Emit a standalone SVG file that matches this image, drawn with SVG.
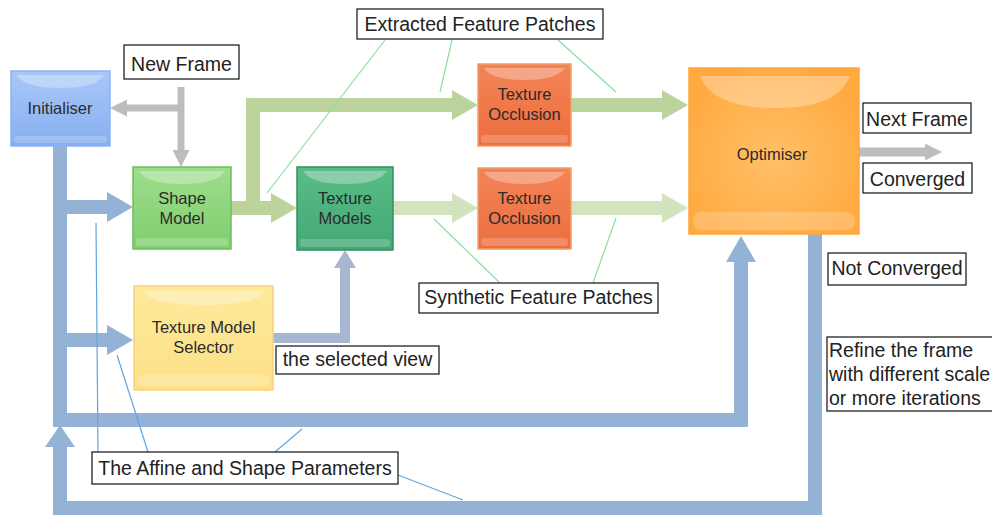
<svg xmlns="http://www.w3.org/2000/svg" width="992" height="516" viewBox="0 0 992 516">
<style>
  .lbl rect { fill: #ffffff; stroke: #222; stroke-width: 1.3; }
  .lbl text { font-family: "Liberation Sans", Arial, sans-serif; font-size: 19.5px; fill: #222; }
  .node text { font-family: "Liberation Sans", Arial, sans-serif; font-size: 16.5px; fill: #2b2b2b; text-anchor: middle; }
  .gloss { fill: #ffffff; opacity: 0.3; }
  .band { fill: #ffffff; opacity: 0.2; }
  .blue { fill: none; stroke: #94b2d6; stroke-width: 14; stroke-linejoin: miter; }
  .blue2 { fill: none; stroke: #a7b7d2; stroke-width: 10; stroke-linejoin: miter; }
  .gray { fill: none; stroke: #bdbdbd; stroke-width: 7; }
  .green1 { fill: none; stroke: #bcd49c; stroke-width: 14; stroke-linejoin: miter; }
  .green2 { fill: none; stroke: #d3e3be; stroke-width: 14; }
  .gline { stroke: #86e29a; stroke-width: 1.2; fill: none; }
  .bline { stroke: #62a6dc; stroke-width: 1.2; fill: none; }
</style>
<defs>
  <linearGradient id="gBlue" x1="0" y1="0" x2="0" y2="1"><stop offset="0" stop-color="#a9c8f8"/><stop offset="1" stop-color="#86aef0"/></linearGradient>
  <linearGradient id="gGreen" x1="0" y1="0" x2="0" y2="1"><stop offset="0" stop-color="#9ddd8c"/><stop offset="1" stop-color="#80cf6f"/></linearGradient>
  <linearGradient id="gTeal" x1="0" y1="0" x2="0" y2="1"><stop offset="0" stop-color="#5abd88"/><stop offset="1" stop-color="#43a874"/></linearGradient>
  <linearGradient id="gRed" x1="0" y1="0" x2="0" y2="1"><stop offset="0" stop-color="#f38457"/><stop offset="1" stop-color="#ec6e3e"/></linearGradient>
  <radialGradient id="gOrange" cx="0.5" cy="0.55" r="0.6"><stop offset="0" stop-color="#ffc068"/><stop offset="1" stop-color="#ffa93f"/></radialGradient>
  <linearGradient id="gYellow" x1="0" y1="0" x2="0" y2="1"><stop offset="0" stop-color="#fee99a"/><stop offset="1" stop-color="#fde088"/></linearGradient>
  <marker id="hBlue" viewBox="0 0 26 30" markerWidth="26" markerHeight="30" refX="0" refY="15" orient="auto" markerUnits="userSpaceOnUse"><path d="M0,0 L26,15 L0,30 z" fill="#94b2d6"/></marker>
  <marker id="hBlueS" viewBox="0 0 22 30" markerWidth="22" markerHeight="30" refX="0" refY="15" orient="auto" markerUnits="userSpaceOnUse"><path d="M0,0 L22,15 L0,30 z" fill="#94b2d6"/></marker>
  <marker id="hBlue2" viewBox="0 0 18 22" markerWidth="18" markerHeight="22" refX="0" refY="11" orient="auto" markerUnits="userSpaceOnUse"><path d="M0,0 L18,11 L0,22 z" fill="#a7b7d2"/></marker>
  <marker id="hGray" viewBox="0 0 17 17" markerWidth="17" markerHeight="17" refX="0" refY="8.5" orient="auto" markerUnits="userSpaceOnUse"><path d="M0,0 L17,8.5 L0,17 z" fill="#bdbdbd"/></marker>
  <marker id="hGreen1" viewBox="0 0 26 30" markerWidth="26" markerHeight="30" refX="0" refY="15" orient="auto" markerUnits="userSpaceOnUse"><path d="M0,0 L26,15 L0,30 z" fill="#bcd49c"/></marker>
  <marker id="hGreen2" viewBox="0 0 26 30" markerWidth="26" markerHeight="30" refX="0" refY="15" orient="auto" markerUnits="userSpaceOnUse"><path d="M0,0 L26,15 L0,30 z" fill="#d3e3be"/></marker>
</defs>

<g id="connectors">
  <!-- blue trunk from Initialiser -->
  <path class="blue" d="M60,146 V420 H741 V262" marker-end="url(#hBlue)"/>
  <path class="blue" d="M60,207 H107" marker-end="url(#hBlue)"/>
  <path class="blue" d="M60,340 H107" marker-end="url(#hBlue)"/>
  <!-- loop back from Optimiser -->
  <path class="blue" d="M815,234 V508 H60 V447" marker-end="url(#hBlueS)"/>
  <!-- selected view -->
  <path class="blue2" d="M273,338 H345 V268" marker-end="url(#hBlue2)"/>
  <!-- gray new frame / next frame -->
  <path class="gray" d="M181,87 V150" marker-end="url(#hGray)"/>
  <path class="gray" d="M181,108 H127" marker-end="url(#hGray)"/>
  <path class="gray" style="stroke-width:9" d="M859,152 H925" marker-end="url(#hGray)"/>
  <!-- green paths -->
  <path class="green1" d="M231,208 H253 V105 H452" marker-end="url(#hGreen1)"/>
  <path class="green1" d="M253,208 H271" marker-end="url(#hGreen1)"/>
  <path class="green1" d="M571,105 H662" marker-end="url(#hGreen1)"/>
  <path class="green2" d="M393,208 H452" marker-end="url(#hGreen2)"/>
  <path class="green2" d="M571,208 H662" marker-end="url(#hGreen2)"/>
  <!-- callout lines -->
  <line class="gline" x1="385" y1="40" x2="267" y2="193"/>
  <line class="gline" x1="452" y1="40" x2="440" y2="92"/>
  <line class="gline" x1="558" y1="40" x2="616" y2="92"/>
  <line class="gline" x1="500" y1="283" x2="434" y2="219"/>
  <line class="gline" x1="593" y1="283" x2="616" y2="218"/>
  <line class="bline" x1="98" y1="452" x2="96" y2="223"/>
  <line class="bline" x1="148" y1="452" x2="117" y2="355"/>
  <line class="bline" x1="275" y1="452" x2="302" y2="429"/>
  <line class="bline" x1="398" y1="475" x2="463" y2="500"/>
</g>

<g id="initialiser" class="node">
  <rect x="11" y="71" width="99" height="75" fill="url(#gBlue)" stroke="#8db3ee" stroke-width="1.5"/>
  <path class="gloss" d="M17,75 H104 Q96,88 60,88 Q24,88 17,75 z"/>
  <rect class="band" x="14" y="136" width="93" height="7" rx="3"/>
  <text x="60" y="114">Initialiser</text>
</g>

<g id="shape-model" class="node">
  <rect x="133" y="167" width="98" height="82" fill="url(#gGreen)" stroke="#6cbf5c" stroke-width="1.5"/>
  <path class="gloss" d="M139,171 H225 Q217,184 182,184 Q147,184 139,171 z"/>
  <rect class="band" x="136" y="238" width="92" height="8" rx="3"/>
  <text x="182" y="204">Shape</text>
  <text x="182" y="224">Model</text>
</g>

<g id="texture-models" class="node">
  <rect x="297" y="167" width="96" height="83" fill="url(#gTeal)" stroke="#2f9262" stroke-width="1.5"/>
  <path class="gloss" d="M303,171 H387 Q379,184 345,184 Q311,184 303,171 z"/>
  <rect class="band" x="300" y="239" width="90" height="8" rx="3"/>
  <text x="345" y="204">Texture</text>
  <text x="345" y="224">Models</text>
</g>

<g id="texture-occlusion-1" class="node">
  <rect x="478" y="64" width="93" height="82" fill="url(#gRed)" stroke="#f3a067" stroke-width="1.5"/>
  <path class="gloss" d="M484,68 H565 Q557,80 524,80 Q491,80 484,68 z"/>
  <rect class="band" x="481" y="135" width="87" height="8" rx="3"/>
  <text x="524.5" y="100">Texture</text>
  <text x="524.5" y="120">Occlusion</text>
</g>

<g id="texture-occlusion-2" class="node">
  <rect x="478" y="168" width="93" height="81" fill="url(#gRed)" stroke="#f3a067" stroke-width="1.5"/>
  <path class="gloss" d="M484,172 H565 Q557,184 524,184 Q491,184 484,172 z"/>
  <rect class="band" x="481" y="238" width="87" height="8" rx="3"/>
  <text x="524.5" y="204">Texture</text>
  <text x="524.5" y="224">Occlusion</text>
</g>

<g id="optimiser" class="node">
  <rect x="689" y="68" width="170" height="166" fill="url(#gOrange)" stroke="#ffa73e" stroke-width="1.5"/>
  <path class="gloss" d="M700,76 H850 Q838,108 775,108 Q712,108 700,76 z"/>
  <rect class="band" x="693" y="212" width="162" height="18" rx="8"/>
  <text x="772" y="160">Optimiser</text>
</g>

<g id="texture-model-selector" class="node">
  <rect x="134" y="286" width="139" height="104" fill="url(#gYellow)" stroke="#f6d27e" stroke-width="1.5"/>
  <path class="gloss" d="M142,291 H266 Q256,305 204,305 Q152,305 142,291 z"/>
  <rect class="band" x="137" y="375" width="133" height="11" rx="5"/>
  <text x="203.5" y="333">Texture Model</text>
  <text x="203.5" y="353">Selector</text>
</g>

<g id="label-new-frame" class="lbl">
  <rect x="124" y="45" width="115" height="34"/>
  <text x="181.5" y="71" text-anchor="middle">New Frame</text>
</g>
<g id="label-extracted" class="lbl">
  <rect x="357" y="9" width="246" height="30"/>
  <text x="480" y="31" text-anchor="middle">Extracted Feature Patches</text>
</g>
<g id="label-next-frame" class="lbl">
  <rect x="863" y="103" width="108" height="30"/>
  <text x="917" y="126" text-anchor="middle">Next Frame</text>
</g>
<g id="label-converged" class="lbl">
  <rect x="863" y="163" width="109" height="30"/>
  <text x="917.5" y="186" text-anchor="middle">Converged</text>
</g>
<g id="label-not-converged" class="lbl">
  <rect x="828" y="253" width="138" height="32"/>
  <text x="897" y="275" text-anchor="middle">Not Converged</text>
</g>
<g id="label-refine" class="lbl">
  <rect x="827" y="337" width="175" height="74"/>
  <text x="829" y="357">Refine the frame</text>
  <text x="829" y="381">with different scale</text>
  <text x="829" y="405">or more iterations</text>
</g>
<g id="label-synthetic" class="lbl">
  <rect x="419" y="283" width="239" height="30"/>
  <text x="538.5" y="304" text-anchor="middle">Synthetic Feature Patches</text>
</g>
<g id="label-selected-view" class="lbl">
  <rect x="276" y="346" width="163" height="28"/>
  <text x="357.5" y="366" text-anchor="middle">the selected view</text>
</g>
<g id="label-affine" class="lbl">
  <rect x="92" y="452" width="306" height="32"/>
  <text x="245" y="475" text-anchor="middle">The Affine and Shape Parameters</text>
</g>
</svg>
